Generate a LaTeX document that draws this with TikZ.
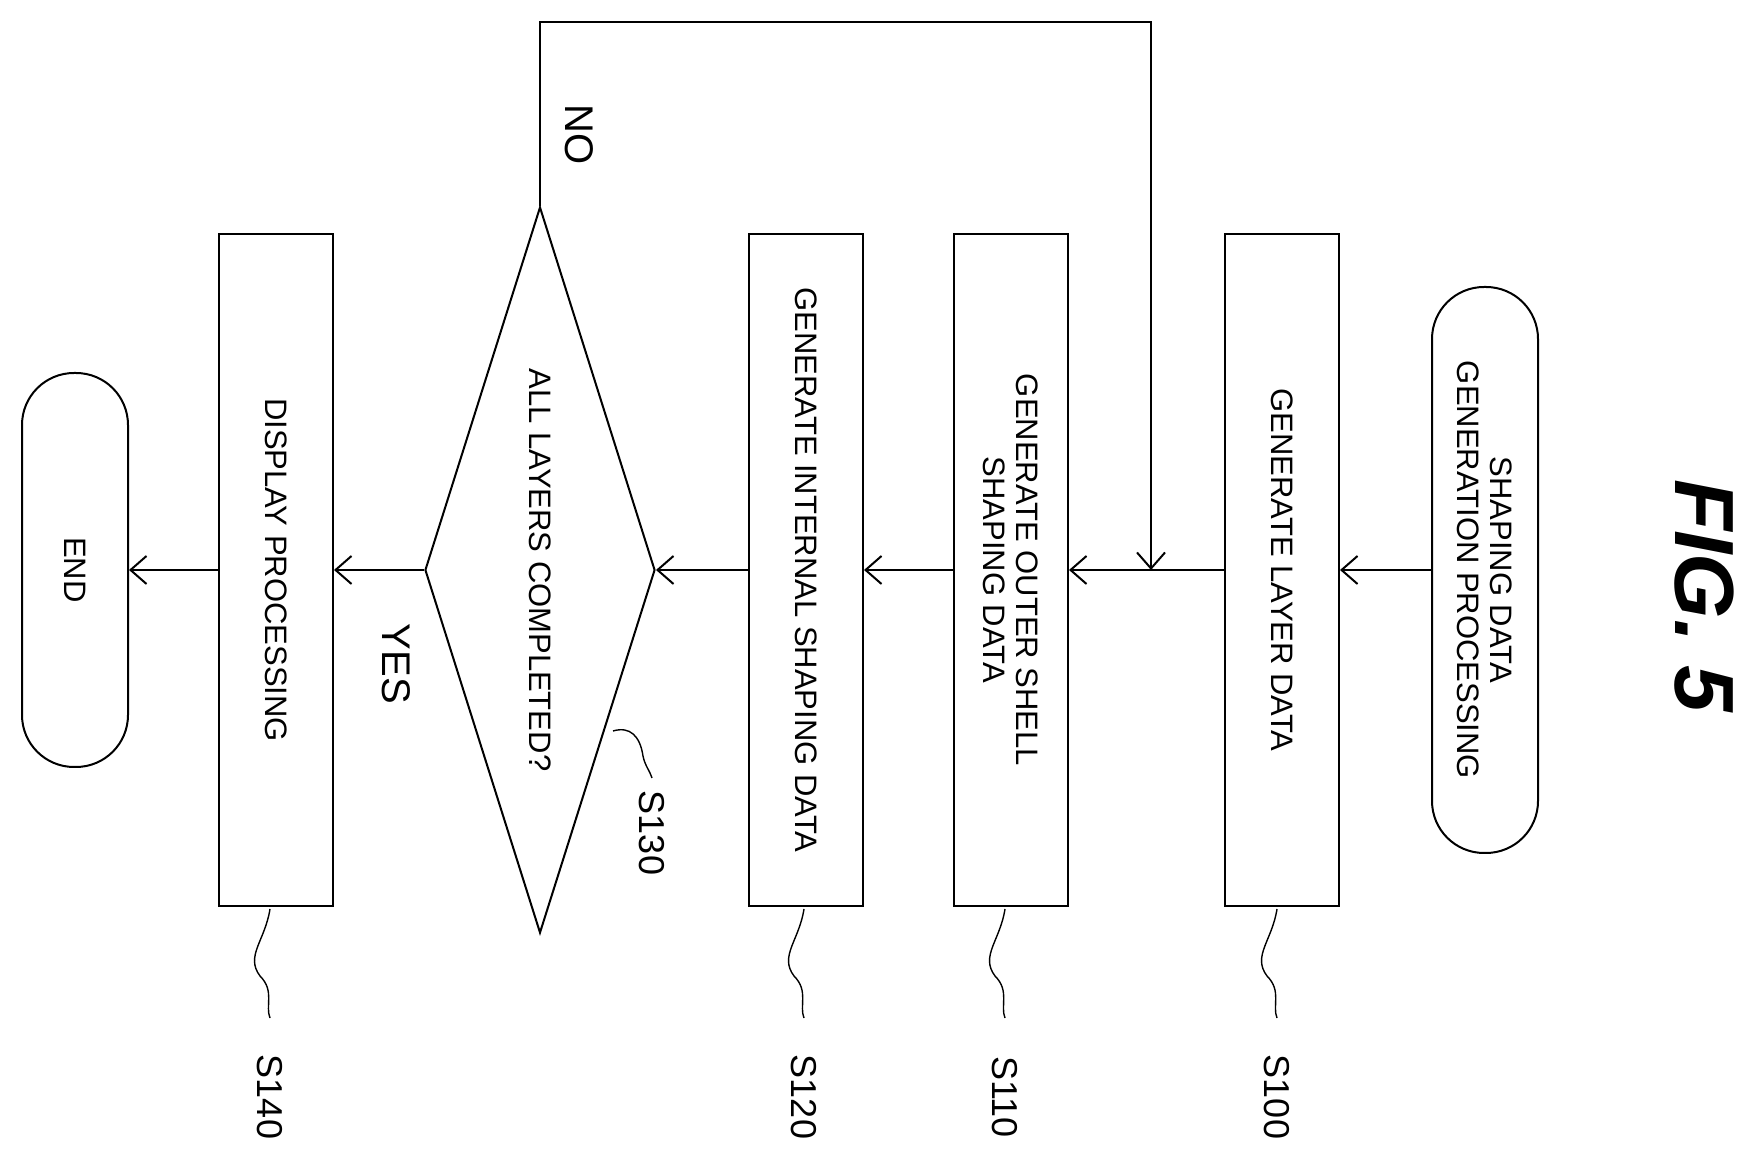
\documentclass[tikz,border=0pt]{standalone}
\usepackage{fontspec}
\setmainfont{Liberation Sans}
\usetikzlibrary{shapes.geometric,arrows.meta}
\begin{document}
\begin{tikzpicture}[x=0.5pt,y=0.5pt,
  box/.style={draw,line width=1pt,rotate=-90,minimum width=336pt,minimum height=57pt,inner sep=2pt,align=center,font=\fontsize{15.5}{16.5}\selectfont},
  term/.style={box,rounded corners=26pt,minimum height=53pt},
  arr/.style={line width=1pt,-{Straight Barb[length=8pt,width=14pt]}},
  lead/.style={line width=0.7pt},
  slab/.style={rotate=-90,font=\fontsize{18}{18}\selectfont}]
\useasboundingbox (0,0) rectangle (1755,1156);
\node[term,minimum width=283pt] (start) at (1485,586) {SHAPING DATA\\GENERATION PROCESSING};
\node[box] (s100) at (1282,586) {GENERATE LAYER DATA};
\node[box] (s110) at (1011,586) {GENERATE OUTER SHELL\\SHAPING DATA};
\node[box] (s120) at (806,586) {GENERATE INTERNAL SHAPING DATA};
\node[draw,line width=1pt,diamond,rotate=-90,aspect=3.16,inner sep=0pt,minimum width=363pt,minimum height=115pt,font=\fontsize{15.5}{16.5}\selectfont] (dia) at (540,586) {ALL LAYERS COMPLETED?};
\node[box] (s140) at (276,586) {DISPLAY PROCESSING};
\node[term,minimum width=197pt,minimum height=53pt] (end) at (75,586) {END};
\coordinate (j) at (1151,586);
\draw[arr] (start) -- (s100);
\draw[line width=1pt] (s100) -- (j);
\draw[arr] (j) -- (s110);
\draw[arr] (s110) -- (s120);
\draw[arr] (s120) -- (dia);
\draw[arr] (dia) -- (s140);
\draw[arr] (s140) -- (end);
\coordinate (lt) at (1151,1134);
\draw[arr] (dia.west) |- (lt) -- (j);
\node[slab,font=\fontsize{20}{20}\selectfont] (no) at (579,1021) {NO};
\node[slab,font=\fontsize{20}{20}\selectfont] (yes) at (396,492) {YES};
\node[rotate=-90,font=\fontsize{42}{42}\selectfont\bfseries\itshape] (fig) at (1704,560) {FIG. 5};
\node[slab] (l100) at (1277,59) {S100};
\node[slab] (l110) at (1005,59) {S110};
\node[slab] (l120) at (804,59) {S120};
\node[slab] (l140) at (270,59) {S140};
\node[slab] (l130) at (652,323) {S130};
\foreach \n/\x in {s100/1277,s110/1005,s120/804,s140/270}{
  \draw[lead] (\x,247) .. controls (\x-5,215) and (\x-25,200) .. (\x-10,180) .. controls (\x+5,165) and (\x-5,150) .. (\x,138);}
\draw[lead] (613,425) .. controls (630,430) and (640,420) .. (643,400) .. controls (645,390) and (650,385) .. (652,378);
\end{tikzpicture}
\end{document}
